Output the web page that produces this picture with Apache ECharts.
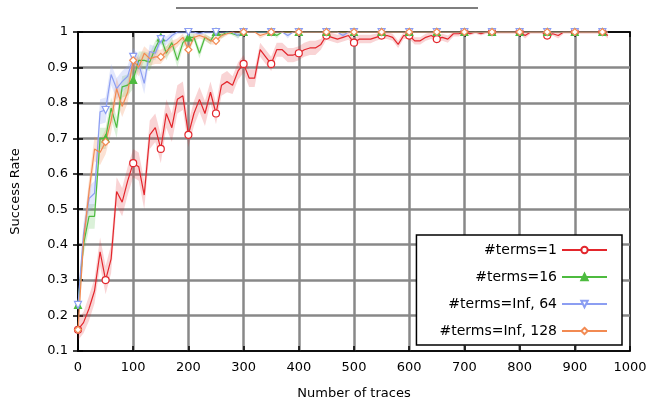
<!DOCTYPE html>
<html>
<head>
<meta charset="utf-8">
<script src="https://cdn.jsdelivr.net/npm/echarts@6/dist/echarts.min.js"></script>
<style>
  html, body { margin: 0; padding: 0; background: #fff; }
  #chart { width: 649px; height: 400px; }
</style>
</head>
<body>
<div id="chart"></div>
<script>
"use strict";
// x positions (number of traces)
var traces = [];
for (var t = 0; t <= 960; t += 10) traces.push(t);

var names = ['#terms=1', '#terms=16', '#terms=Inf, 64', '#terms=Inf, 128'];

var rateT1 = [0.16, 0.18, 0.22, 0.27, 0.38, 0.30, 0.36, 0.55, 0.52, 0.58,
    0.63, 0.62, 0.54, 0.71, 0.73, 0.67, 0.77, 0.73, 0.81, 0.82,
    0.71, 0.77, 0.81, 0.77, 0.83, 0.77, 0.85, 0.86, 0.85, 0.89,
    0.91, 0.87, 0.87, 0.95, 0.93, 0.91, 0.95, 0.95, 0.935, 0.935,
    0.94, 0.95, 0.955, 0.955, 0.965, 0.99, 0.985, 0.98, 0.985, 0.99,
    0.97, 0.98, 0.98, 0.98, 0.985, 0.99, 0.99, 0.985, 0.965, 0.99,
    0.99, 0.975, 0.975, 0.985, 0.99, 0.98, 0.985, 0.98, 0.995, 0.995,
    1, 0.995, 1, 0.995, 1, 1, 1, 1, 1, 1,
    1, 0.99, 1, 1, 1, 0.99, 0.995, 0.99, 1, 1,
    1, 1, 1, 1, 1, 1, 0.99];
var errT1 = [0.03, 0.03, 0.035, 0.035, 0.04, 0.04, 0.04, 0.04, 0.04, 0.04,
    0.04, 0.04, 0.04, 0.04, 0.04, 0.04, 0.04, 0.04, 0.04, 0.04,
    0.035, 0.035, 0.035, 0.035, 0.03, 0.03, 0.03, 0.03, 0.025, 0.025,
    0.025, 0.025, 0.025, 0.02, 0.02, 0.02, 0.02, 0.02, 0.02, 0.02,
    0.02, 0.02, 0.02, 0.02, 0.015, 0.012, 0.012, 0.012, 0.012, 0.012,
    0.012, 0.012, 0.012, 0.012, 0.01, 0.01, 0.01, 0.01, 0.01, 0.01,
    0.01, 0.01, 0.01, 0.01, 0.01, 0.01, 0.01, 0.01, 0.008, 0.008,
    0.005, 0.005, 0.005, 0.005, 0.005, 0.005, 0.005, 0.005, 0.005, 0.005,
    0.005, 0.008, 0.005, 0.005, 0.005, 0.008, 0.005, 0.008, 0.005, 0.005,
    0.005, 0.005, 0.005, 0.005, 0.005, 0.005, 0.008];

var rateT16 = [0.23, 0.40, 0.48, 0.48, 0.70, 0.70, 0.785, 0.73, 0.845, 0.85,
    0.865, 0.92, 0.92, 0.915, 0.955, 0.985, 0.94, 0.97, 0.92, 0.97,
    0.985, 0.985, 0.94, 0.985, 0.975, 1, 0.99, 1, 0.995, 0.99,
    1, 1, 1, 1, 1, 1, 0.99, 1, 1, 1,
    1, 1, 1, 1, 1, 1, 1, 1, 1, 1,
    1, 1, 1, 1, 1, 1, 1, 1, 1, 1,
    1, 1, 1, 1, 1, 1, 1, 1, 1, 1,
    1, 1, 1, 1, 1, 1, 1, 1, 1, 1,
    1, 1, 1, 1, 1, 1, 1, 1, 1, 1,
    1, 1, 1, 1, 1, 1, 1];
var errT16 = [0.02, 0.03, 0.035, 0.035, 0.03, 0.03, 0.03, 0.03, 0.03, 0.03,
    0.025, 0.025, 0.025, 0.025, 0.02, 0.015, 0.02, 0.015, 0.02, 0.015,
    0.01, 0.01, 0.015, 0.01, 0.01, 0.005, 0.008, 0.005, 0.005, 0.008,
    0, 0, 0, 0, 0, 0, 0.008, 0, 0, 0,
    0, 0, 0, 0, 0, 0, 0, 0, 0, 0,
    0, 0, 0, 0, 0, 0, 0, 0, 0, 0,
    0, 0, 0, 0, 0, 0, 0, 0, 0, 0,
    0, 0, 0, 0, 0, 0, 0, 0, 0, 0,
    0, 0, 0, 0, 0, 0, 0, 0, 0, 0,
    0, 0, 0, 0, 0, 0, 0];

var rateInf64 = [0.23, 0.43, 0.53, 0.545, 0.775, 0.78, 0.88, 0.84, 0.86, 0.875,
    0.93, 0.91, 0.855, 0.945, 0.94, 0.98, 0.975, 0.99, 1, 1,
    1, 1, 0.995, 1, 1, 1, 1, 1, 1, 0.99,
    1, 1, 1, 1, 1, 1, 1, 1, 0.99, 1,
    1, 1, 1, 1, 1, 1, 1, 1, 0.99, 1,
    1, 1, 1, 1, 1, 1, 1, 1, 1, 1,
    1, 1, 1, 1, 1, 1, 1, 1, 1, 1,
    1, 1, 1, 1, 1, 1, 1, 1, 1, 1,
    1, 1, 1, 1, 1, 1, 1, 1, 1, 1,
    1, 1, 1, 1, 1, 1, 1];
var errInf64 = [0.02, 0.03, 0.035, 0.035, 0.035, 0.035, 0.03, 0.03, 0.03, 0.03,
    0.025, 0.025, 0.03, 0.02, 0.02, 0.015, 0.012, 0.01, 0.005, 0.005,
    0.005, 0.005, 0.008, 0.005, 0.005, 0, 0, 0, 0, 0.008,
    0, 0, 0, 0, 0, 0, 0, 0, 0.008, 0,
    0, 0, 0, 0, 0, 0, 0, 0, 0.008, 0,
    0, 0, 0, 0, 0, 0, 0, 0, 0, 0,
    0, 0, 0, 0, 0, 0, 0, 0, 0, 0,
    0, 0, 0, 0, 0, 0, 0, 0, 0, 0,
    0, 0, 0, 0, 0, 0, 0, 0, 0, 0,
    0, 0, 0, 0, 0, 0, 0];

var rateInf128 = [0.16, 0.41, 0.55, 0.67, 0.66, 0.69, 0.75, 0.84, 0.79, 0.83,
    0.92, 0.90, 0.94, 0.925, 0.93, 0.93, 0.945, 0.96, 0.97, 0.985,
    0.95, 0.985, 0.99, 0.985, 0.975, 0.975, 0.99, 0.995, 1, 1,
    1, 1, 1, 0.99, 0.995, 1, 1, 1, 1, 1,
    1, 1, 1, 1, 1, 1, 1, 1, 1, 1,
    1, 1, 1, 1, 1, 1, 1, 1, 1, 1,
    1, 1, 1, 1, 1, 1, 1, 1, 1, 1,
    1, 1, 1, 1, 1, 1, 1, 1, 1, 1,
    1, 1, 1, 1, 1, 1, 1, 1, 1, 1,
    1, 1, 1, 1, 1, 1, 1];
var errInf128 = [0.02, 0.03, 0.035, 0.035, 0.035, 0.035, 0.035, 0.03, 0.03, 0.03,
    0.025, 0.025, 0.02, 0.02, 0.02, 0.02, 0.015, 0.015, 0.012, 0.01,
    0.012, 0.01, 0.008, 0.008, 0.01, 0.01, 0.008, 0.005, 0, 0,
    0, 0, 0, 0.008, 0.005, 0, 0, 0, 0, 0,
    0, 0, 0, 0, 0, 0, 0, 0, 0, 0,
    0, 0, 0, 0, 0, 0, 0, 0, 0, 0,
    0, 0, 0, 0, 0, 0, 0, 0, 0, 0,
    0, 0, 0, 0, 0, 0, 0, 0, 0, 0,
    0, 0, 0, 0, 0, 0, 0, 0, 0, 0,
    0, 0, 0, 0, 0, 0, 0];

var yTicks = [0.1, 0.2, 0.3, 0.4, 0.5, 0.6, 0.7, 0.8, 0.9, 1];

var rates = [rateT1, rateT16, rateInf64, rateInf128];
var errs = [errT1, errT16, errInf64, errInf128];
var colors = ['#e3262c', '#4dbb3f', '#8c9ef2', '#f28a52'];
var bandColors = ['rgba(227,38,44,0.2)', 'rgba(77,187,63,0.2)', 'rgba(140,158,242,0.25)', 'rgba(242,138,82,0.25)'];
var symbols = ['circle', 'triangle', 'triangle', 'diamond'];
var rotates = [0, 0, 180, 0];
var filled = [false, true, false, false];

var chart = echarts.init(document.getElementById('chart'));
var font = 'DejaVu Sans';
var yMin = yTicks[0], yMax = yTicks[yTicks.length - 1];

function pairs(xs, ys) {
    return xs.map(function (x, i) { return [x, ys[i]]; });
}
function clampY(v) { return Math.max(yMin, Math.min(yMax, v)); }

var series = [];
// confidence bands: one polygon per series, drawn on the first data item
rates.forEach(function (r, s) {
    series.push({
        type: 'custom', silent: true, z: 1,
        data: pairs(traces, r),
        renderItem: function (params, api) {
            if (params.dataIndex !== 0) return;
            var upper = [], lower = [];
            traces.forEach(function (x, i) {
                upper.push(api.coord([x, clampY(r[i] + errs[s][i])]));
                lower.unshift(api.coord([x, clampY(r[i] - errs[s][i])]));
            });
            return {type: 'polygon', shape: {points: upper.concat(lower)}, style: {fill: bandColors[s]}};
        }
    });
});
// main lines
rates.forEach(function (r, s) {
    series.push({
        name: names[s], type: 'line', data: pairs(traces, r), z: 3,
        symbol: symbols[s], symbolRotate: rotates[s],
        symbolSize: function (val, p) { return p.dataIndex % 5 === 0 ? 7 : 0; },
        showAllSymbol: true,
        lineStyle: {color: colors[s], width: 1.2},
        itemStyle: {color: filled[s] ? colors[s] : '#fff', borderColor: colors[s], borderWidth: 1.2}
    });
});

var labelStyle = {color: '#000', fontFamily: font, fontSize: 13};

chart.setOption({
    animation: false,
    textStyle: {fontFamily: font},
    grid: {left: 78, right: 19, top: 32, bottom: 49, outerBoundsMode: 'none', containLabel: false,
        show: true, borderColor: '#000', borderWidth: 1.5, backgroundColor: '#fff'},
    graphic: [{
        type: 'line', shape: {x1: 176, y1: 8, x2: 478, y2: 8},
        style: {stroke: '#555', lineWidth: 1.5}
    }],
    legend: {
        data: names, orient: 'vertical', align: 'right', right: 27, bottom: 55,
        itemWidth: 45, itemHeight: 8, itemGap: 13,
        padding: [8, 14, 7, 23], backgroundColor: '#fff',
        borderColor: '#000', borderWidth: 1.5,
        textStyle: {fontFamily: font, fontSize: 14, color: '#000'}
    },
    xAxis: [{
        type: 'value', min: 0, max: 1000, interval: 100,
        name: 'Number of traces', nameLocation: 'middle', nameGap: 36,
        nameTextStyle: labelStyle,
        axisLine: {show: true, lineStyle: {color: '#000', width: 1.5}},
        axisTick: {inside: true, length: 5, lineStyle: {color: '#000', width: 1.5}},
        axisLabel: Object.assign({margin: 10, formatter: function (v) { return String(v); }}, labelStyle),
        splitLine: {show: true, showMinLine: false, showMaxLine: false, lineStyle: {color: '#888', width: 2.5}}
    }, {
        type: 'value', min: 0, max: 1000, interval: 100, position: 'top',
        axisLine: {show: true, lineStyle: {color: '#000', width: 1.5}},
        axisTick: {inside: true, length: 5, lineStyle: {color: '#000', width: 1.5}},
        axisLabel: {show: false}, splitLine: {show: false}
    }],
    yAxis: [{
        type: 'value', min: yMin, max: yMax, interval: 0.1,
        name: 'Success Rate', nameLocation: 'middle', nameGap: 56,
        nameTextStyle: labelStyle,
        axisLine: {show: true, lineStyle: {color: '#000', width: 1.5}},
        axisTick: {inside: true, length: 5, lineStyle: {color: '#000', width: 1.5}},
        axisLabel: Object.assign({margin: 10, formatter: function (v) { return String(Math.round(v * 10) / 10); }}, labelStyle),
        splitLine: {show: true, showMinLine: false, showMaxLine: false, lineStyle: {color: '#888', width: 2.5}}
    }, {
        type: 'value', min: yMin, max: yMax, interval: 0.1, position: 'right',
        axisLine: {show: true, lineStyle: {color: '#000', width: 1.5}},
        axisTick: {inside: true, length: 5, lineStyle: {color: '#000', width: 1.5}},
        axisLabel: {show: false}, splitLine: {show: false}
    }],
    series: series
});
</script>
</body>
</html>
